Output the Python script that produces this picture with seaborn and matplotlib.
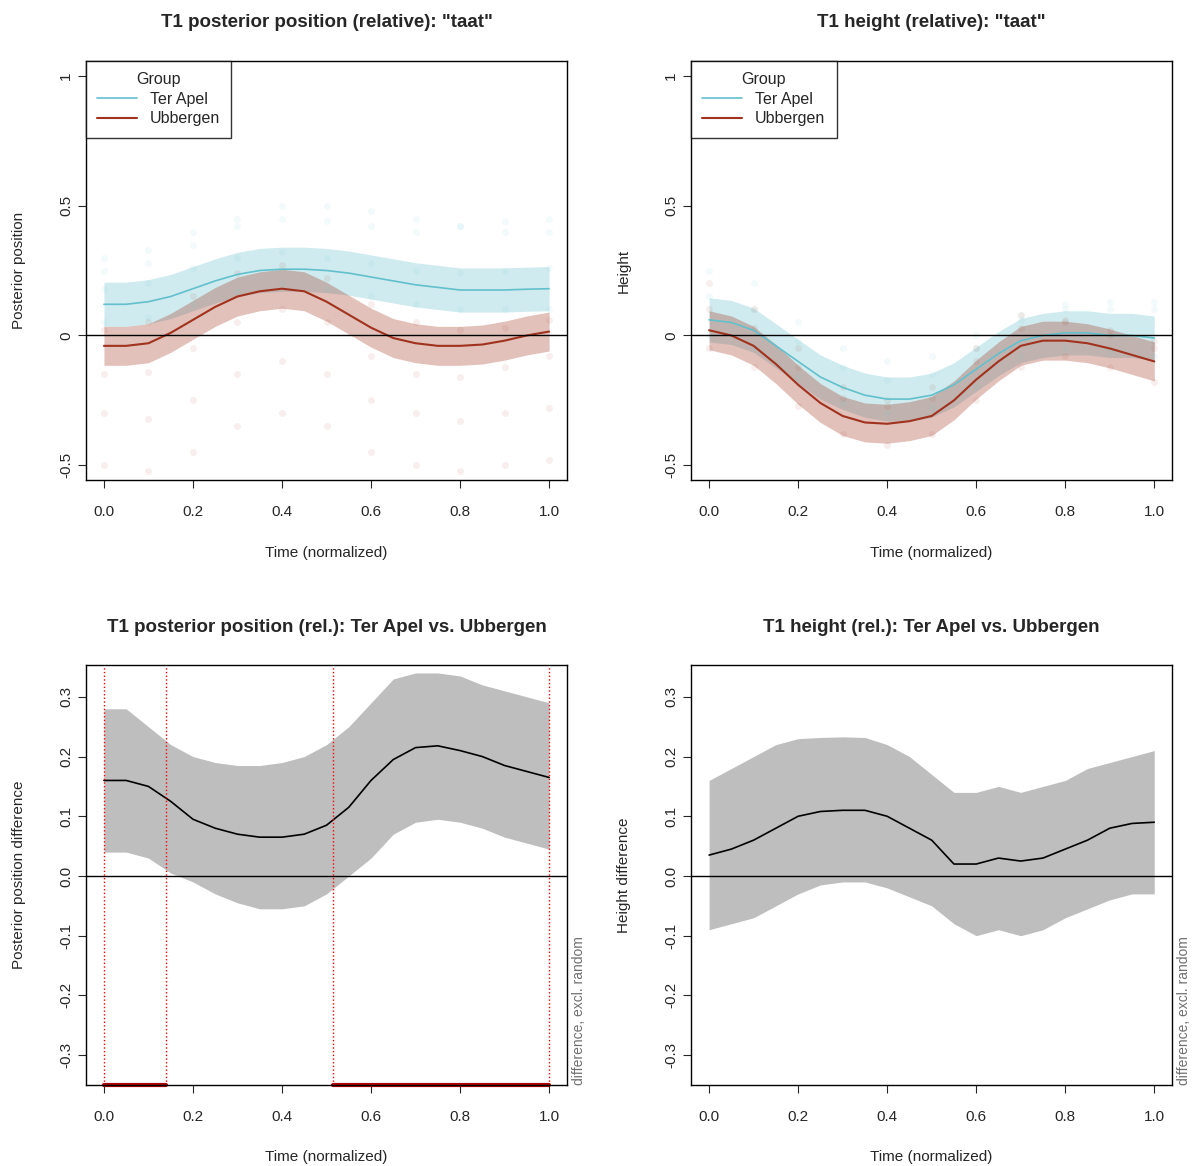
import numpy as np
import seaborn as sns
import matplotlib.pyplot as plt

sns.set_style("white")
plt.rcParams['font.family'] = ['Liberation Sans', 'DejaVu Sans']

t = [0.0, 0.05, 0.1, 0.15, 0.2, 0.25, 0.3, 0.35, 0.4, 0.45, 0.5,
     0.55, 0.6, 0.65, 0.7, 0.75, 0.8, 0.85, 0.9, 0.95, 1.0]
t_raw = [0.0, 0.1, 0.2, 0.3, 0.4, 0.5, 0.6, 0.7, 0.8, 0.9, 1.0]

# top left: posterior position
pos_ta = [0.12, 0.12, 0.13, 0.15, 0.18, 0.21, 0.235, 0.25, 0.255, 0.255, 0.25,
          0.24, 0.225, 0.21, 0.195, 0.185, 0.175, 0.175, 0.175, 0.178, 0.18]
pos_ub = [-0.04, -0.04, -0.03, 0.01, 0.06, 0.11, 0.15, 0.17, 0.18, 0.17, 0.13,
          0.08, 0.03, -0.01, -0.03, -0.04, -0.04, -0.035, -0.02, 0.0, 0.015]
# top right: height
hgt_ta = [0.06, 0.05, 0.02, -0.04, -0.10, -0.16, -0.20, -0.23, -0.245, -0.245, -0.23,
          -0.19, -0.13, -0.07, -0.02, 0.0, 0.01, 0.01, 0.0, 0.0, -0.01]
hgt_ub = [0.02, 0.0, -0.04, -0.11, -0.19, -0.26, -0.31, -0.335, -0.34, -0.33, -0.31,
          -0.25, -0.17, -0.10, -0.04, -0.02, -0.02, -0.03, -0.05, -0.075, -0.10]
band_ta = 0.085
band_ub = 0.075

# faint raw trajectories
raw_pos_ta = [[0.25, 0.28, 0.35, 0.42, 0.45, 0.44, 0.42, 0.40, 0.42, 0.44, 0.45],
              [0.05, 0.07, 0.12, 0.17, 0.2, 0.18, 0.15, 0.12, 0.1, 0.1, 0.1],
              [0.18, 0.2, 0.26, 0.3, 0.32, 0.3, 0.28, 0.25, 0.24, 0.25, 0.26],
              [0.3, 0.33, 0.4, 0.45, 0.5, 0.5, 0.48, 0.45, 0.42, 0.4, 0.4]]
raw_pos_ub = [[-0.15, -0.14, -0.05, 0.05, 0.1, 0.05, -0.08, -0.15, -0.16, -0.12, -0.08],
              [0.02, 0.05, 0.15, 0.24, 0.27, 0.22, 0.12, 0.05, 0.02, 0.03, 0.06],
              [-0.3, -0.32, -0.25, -0.15, -0.1, -0.15, -0.25, -0.3, -0.33, -0.3, -0.28],
              [-0.5, -0.52, -0.45, -0.35, -0.3, -0.35, -0.45, -0.5, -0.52, -0.5, -0.48]]
raw_hgt_ta = [[0.15, 0.1, -0.02, -0.12, -0.17, -0.15, -0.05, 0.06, 0.1, 0.1, 0.1],
              [0.0, -0.05, -0.16, -0.26, -0.3, -0.28, -0.2, -0.08, -0.05, -0.06, -0.08],
              [0.25, 0.2, 0.05, -0.05, -0.1, -0.08, 0.0, 0.08, 0.12, 0.13, 0.13]]
raw_hgt_ub = [[0.1, 0.03, -0.12, -0.24, -0.27, -0.24, -0.1, 0.03, 0.06, 0.02, -0.02],
              [-0.05, -0.12, -0.27, -0.38, -0.42, -0.38, -0.25, -0.12, -0.08, -0.12, -0.18],
              [0.2, 0.1, -0.05, -0.2, -0.25, -0.2, -0.05, 0.08, 0.05, 0.0, -0.05]]

# bottom: differences
d_pos = [0.16, 0.16, 0.15, 0.125, 0.095, 0.08, 0.07, 0.065, 0.065, 0.07, 0.085,
         0.115, 0.16, 0.195, 0.215, 0.218, 0.21, 0.2, 0.185, 0.175, 0.165]
d_pos_hi = [0.28, 0.28, 0.25, 0.22, 0.2, 0.19, 0.185, 0.185, 0.19, 0.2, 0.22,
            0.25, 0.29, 0.33, 0.34, 0.34, 0.335, 0.32, 0.31, 0.3, 0.29]
d_pos_lo = [0.04, 0.04, 0.03, 0.005, -0.01, -0.03, -0.045, -0.055, -0.055, -0.05, -0.03,
            0.0, 0.03, 0.07, 0.09, 0.095, 0.09, 0.08, 0.065, 0.055, 0.045]
sig_pos = [(0.0, 0.14), (0.515, 1.0)]
d_hgt = [0.035, 0.045, 0.06, 0.08, 0.1, 0.108, 0.11, 0.11, 0.1, 0.08, 0.06,
         0.02, 0.02, 0.03, 0.025, 0.03, 0.045, 0.06, 0.08, 0.088, 0.09]
d_hgt_hi = [0.16, 0.18, 0.2, 0.22, 0.23, 0.232, 0.233, 0.232, 0.22, 0.2, 0.17,
            0.14, 0.14, 0.15, 0.14, 0.15, 0.16, 0.18, 0.19, 0.2, 0.21]
d_hgt_lo = [-0.09, -0.08, -0.07, -0.05, -0.03, -0.015, -0.01, -0.01, -0.02, -0.035, -0.05,
            -0.08, -0.1, -0.09, -0.1, -0.09, -0.07, -0.055, -0.04, -0.03, -0.03]

c_ta = '#62C0CC'
c_ub = '#A0321E'

fig = plt.figure(figsize=(11.96, 11.66), dpi=100)
W, H = 0.402, 0.36
axes = [fig.add_axes([0.072, 0.588, W, H]), fig.add_axes([0.578, 0.588, W, H]),
        fig.add_axes([0.072, 0.0695, W, H]), fig.add_axes([0.578, 0.0695, W, H])]


def style(ax, title, ylabel, yticks, ylim, yfmt):
    ax.set_xlim(-0.04, 1.04)
    ax.set_ylim(*ylim)
    ax.set_xticks([0, 0.2, 0.4, 0.6, 0.8, 1.0])
    ax.set_xticklabels(['0.0', '0.2', '0.4', '0.6', '0.8', '1.0'])
    ax.set_yticks(yticks)
    ax.set_yticklabels([yfmt(v) for v in yticks], rotation=90, va='center')
    ax.tick_params(direction='out', length=6, labelsize=11, left=True, bottom=True)
    ax.tick_params(axis='x', pad=12)
    for s in ax.spines.values():
        s.set_color('black')
        s.set_linewidth(1)
    ax.set_title(title, fontsize=13.5, fontweight='bold', pad=24)
    ax.set_xlabel('Time (normalized)', fontsize=11, labelpad=19)
    ax.set_ylabel(ylabel, fontsize=11)
    ax.yaxis.set_label_coords(-0.125, 0.5)
    ax.axhline(0, color='black', lw=1)


def top_panel(ax, ta, ub, raw_ta, raw_ub, title, ylabel):
    for r in raw_ta:
        ax.plot(t_raw, r, 'o', color=c_ta, alpha=0.08, ms=5, mec='none')
    for r in raw_ub:
        ax.plot(t_raw, r, 'o', color=c_ub, alpha=0.08, ms=5, mec='none')
    ta = np.array(ta)
    ub = np.array(ub)
    ax.fill_between(t, ta - band_ta, ta + band_ta, color=c_ta, alpha=0.3, lw=0)
    ax.fill_between(t, ub - band_ub, ub + band_ub, color=c_ub, alpha=0.3, lw=0)
    sns.lineplot(x=t, y=ta, ax=ax, color=c_ta, lw=1.2, label='Ter Apel')
    sns.lineplot(x=t, y=ub, ax=ax, color=c_ub, lw=1.5, label='Ubbergen')
    style(ax, title, ylabel, [-0.5, 0, 0.5, 1], (-0.558, 1.058),
          lambda v: {-0.5: '-0.5', 0: '0', 0.5: '0.5', 1: '1'}[v])
    leg = ax.legend(title='Group', loc='upper left', borderaxespad=0, fancybox=False,
                    edgecolor='black', fontsize=11.5, title_fontsize=11.5,
                    handlelength=2.5, borderpad=0.7, labelspacing=0.3)
    leg.get_frame().set_linewidth(1)


def bottom_panel(ax, d, lo, hi, sig, title, ylabel):
    ax.fill_between(t, lo, hi, color='#BEBEBE', lw=0)
    sns.lineplot(x=t, y=d, ax=ax, color='black', lw=1.2)
    style(ax, title, ylabel, [-0.3, -0.2, -0.1, 0, 0.1, 0.2, 0.3], (-0.35, 0.353),
          lambda v: f'{v:.1f}')
    for a, b in sig:
        ax.axvline(a, color='red', ls=':', lw=1)
        ax.axvline(b, color='red', ls=':', lw=1)
        ax.plot([a, b], [-0.35, -0.35], color='#B00000', lw=3, clip_on=False)
    ax.text(1.01, 0.0, 'difference, excl. random', transform=ax.transAxes,
            rotation=90, color='#707070', fontsize=10, ha='left', va='bottom')


top_panel(axes[0], pos_ta, pos_ub, raw_pos_ta, raw_pos_ub,
          'T1 posterior position (relative): "taat"', 'Posterior position')
top_panel(axes[1], hgt_ta, hgt_ub, raw_hgt_ta, raw_hgt_ub,
          'T1 height (relative): "taat"', 'Height')
bottom_panel(axes[2], d_pos, d_pos_lo, d_pos_hi, sig_pos,
             'T1 posterior position (rel.): Ter Apel vs. Ubbergen', 'Posterior position difference')
bottom_panel(axes[3], d_hgt, d_hgt_lo, d_hgt_hi, [],
             'T1 height (rel.): Ter Apel vs. Ubbergen', 'Height difference')

fig.savefig('out.png', dpi=100)
